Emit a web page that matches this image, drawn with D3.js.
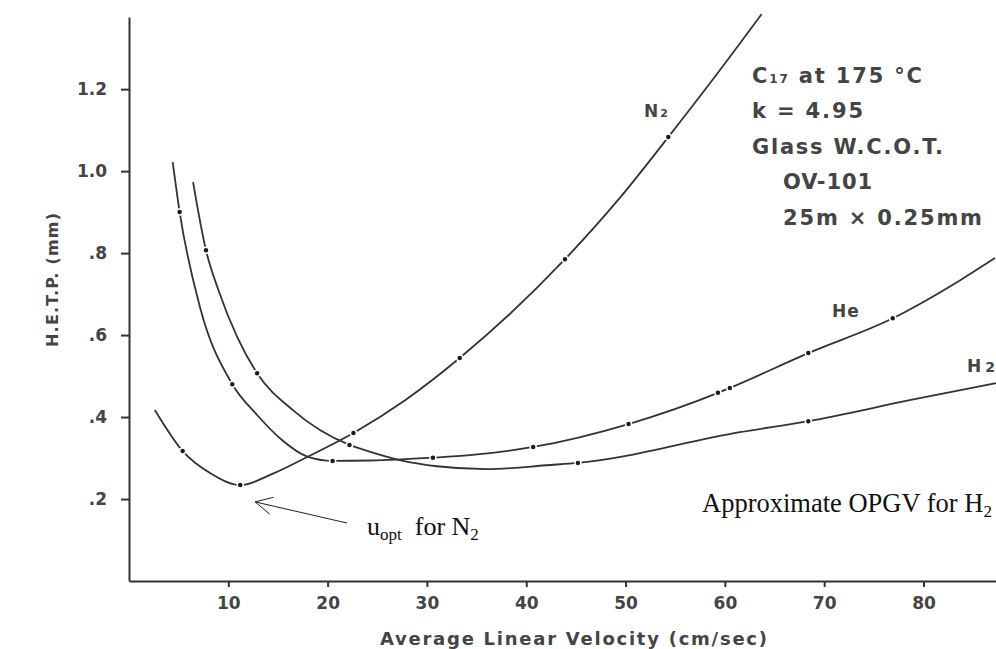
<!DOCTYPE html>
<html>
<head>
<meta charset="utf-8">
<script src="https://cdn.jsdelivr.net/npm/d3@7"></script>
<style>
  body { margin: 0; background: #fff; }
  svg { display: block; }
  .scan { font-family: "DejaVu Sans", sans-serif; font-weight: bold; fill: #444; }
  .note { font-family: "Liberation Serif", "Times New Roman", serif; fill: #111; }
</style>
</head>
<body>
<div id="chart"></div>
<script>
// axis ticks
const xTicks = [10, 20, 30, 40, 50, 60, 70, 80];
const yTicks = [0.2, 0.4, 0.6, 0.8, 1.0, 1.2];

// curves: [velocity cm/sec, HETP mm]
const n2Trace = [[2.6, 0.417], [8.2, 0.263], [14.5, 0.262], [17.9, 0.302], [27.8, 0.441], [49.4, 0.934], [58.8, 1.224], [63.7, 1.383]];
const n2Points = [[5.4, 0.317], [11.2, 0.234], [22.6, 0.361], [33.3, 0.544], [43.9, 0.785], [54.3, 1.083]];

const heTrace = [[4.4, 1.022], [7.15, 0.668], [12.9, 0.405], [15.4, 0.344], [17.9, 0.304], [24.3, 0.294], [34.3, 0.307], [83.7, 0.734], [87.2, 0.788]];
const hePoints = [[5.1, 0.900], [10.4, 0.480], [20.5, 0.293], [30.6, 0.301], [40.7, 0.327], [50.3, 0.383], [59.3, 0.459], [60.5, 0.471], [68.4, 0.556], [76.9, 0.641]];

const h2Trace = [[6.45, 0.973], [9.0, 0.710], [10.9, 0.595], [16.5, 0.417], [24.3, 0.315], [27.6, 0.293], [31.0, 0.280], [36.0, 0.273], [42.4, 0.283], [61.5, 0.363], [78.6, 0.441], [87.3, 0.483]];
const h2Points = [[7.75, 0.807], [12.9, 0.507], [22.2, 0.332], [45.2, 0.288], [68.4, 0.390]];

// arrow for u_opt, tip then tail
const arrowTip = [12.7, 0.193];
const arrowTail = [21.95, 0.1415];

const infoLines = ["k = 4.95", "Glass W.C.O.T.", "OV-101", "25m \u00d7 0.25mm"];

function plot() {
    const width = 996, height = 649;

    const svg = d3.select("#chart").append("svg")
        .attr("width", width)
        .attr("height", height);

    const x = d3.scaleLinear().domain([0, 87.3]).range([129, 996]);
    const y = d3.scaleLinear().domain([0, 1.376]).range([581, 17]);

    // X axis
    const xAxis = svg.append("g")
        .attr("transform", `translate(0,${y(0)})`)
        .call(d3.axisBottom(x).tickValues(xTicks).tickSize(6).tickPadding(10).tickSizeOuter(0));

    // Y axis
    const yAxis = svg.append("g")
        .attr("transform", `translate(${x(0)},0)`)
        .call(d3.axisLeft(y).tickValues(yTicks).tickSize(8).tickPadding(14).tickSizeOuter(0)
            .tickFormat(d => d >= 1 ? d.toFixed(1) : d.toFixed(1).slice(1)));

    [xAxis, yAxis].forEach(a => {
        a.selectAll("path, line").attr("stroke", "#333").attr("stroke-width", 2);
        a.selectAll("text").attr("class", "scan").style("font-size", "17px");
    });

    // axis titles
    svg.append("text")
        .attr("class", "scan")
        .attr("x", 380)
        .attr("y", 645)
        .attr("textLength", 387)
        .attr("lengthAdjust", "spacing")
        .style("font-size", "18px")
        .text("Average Linear Velocity (cm/sec)");

    svg.append("text")
        .attr("class", "scan")
        .attr("transform", "translate(58,280) rotate(-90)")
        .attr("text-anchor", "middle")
        .attr("textLength", 134)
        .attr("lengthAdjust", "spacing")
        .style("font-size", "16px")
        .text("H.E.T.P. (mm)");

    // curves
    const line = d3.line()
        .x(d => x(d[0]))
        .y(d => y(d[1]))
        .curve(d3.curveMonotoneX);

    const series = [
        { trace: n2Trace, points: n2Points },
        { trace: heTrace, points: hePoints },
        { trace: h2Trace, points: h2Points }
    ];

    series.forEach(s => {
        const all = s.trace.concat(s.points).sort((a, b) => a[0] - b[0]);
        svg.append("path")
            .datum(all)
            .attr("d", line)
            .attr("fill", "none")
            .attr("stroke", "#333")
            .attr("stroke-width", 1.8);
    });

    series.forEach(s => {
        svg.selectAll(null)
            .data(s.points)
            .enter()
            .append("circle")
            .attr("cx", d => x(d[0]))
            .attr("cy", d => y(d[1]))
            .attr("r", 3)
            .attr("fill", "#1a1a1a")
            .attr("stroke", "#fff")
            .attr("stroke-width", 1.5);
    });

    // curve labels
    const n2Label = svg.append("text").attr("class", "scan").attr("x", 644).attr("y", 117).style("font-size", "17px");
    n2Label.append("tspan").text("N");
    n2Label.append("tspan").attr("dx", 2).style("font-size", "11px").text("2");

    svg.append("text").attr("class", "scan").attr("x", 832).attr("y", 317)
        .style("font-size", "17px").attr("letter-spacing", 1).text("He");

    const h2Label = svg.append("text").attr("class", "scan").attr("x", 967).attr("y", 372).style("font-size", "17px");
    h2Label.append("tspan").text("H");
    h2Label.append("tspan").attr("dx", 4).style("font-size", "14px").text("2");

    // column info
    const c17 = svg.append("text").attr("class", "scan").attr("x", 752).attr("y", 83)
        .attr("textLength", 170)
        .attr("lengthAdjust", "spacing")
        .style("font-size", "21px");
    c17.append("tspan").text("C");
    c17.append("tspan").style("font-size", "12px").text("17");
    c17.append("tspan").text(" at 175 \u00b0C");

    const infoX = [752, 752, 783, 783];
    const infoLen = [111, 191, 89, 199];
    svg.selectAll(null)
        .data(infoLines)
        .enter()
        .append("text")
        .attr("class", "scan")
        .attr("x", (d, i) => infoX[i])
        .attr("y", (d, i) => 118 + i * 35.5)
        .attr("textLength", (d, i) => infoLen[i])
        .attr("lengthAdjust", "spacing")
        .style("font-size", "21px")
        .text(d => d);

    // u_opt arrow
    const tip = [x(arrowTip[0]), y(arrowTip[1])];
    const tail = [x(arrowTail[0]), y(arrowTail[1])];
    const ang = Math.atan2(tail[1] - tip[1], tail[0] - tip[0]);
    const head = 19, spread = 27 * Math.PI / 180;
    const arrowPath = d3.path();
    arrowPath.moveTo(tail[0], tail[1]);
    arrowPath.lineTo(tip[0], tip[1]);
    arrowPath.moveTo(tip[0] + head * Math.cos(ang - spread), tip[1] + head * Math.sin(ang - spread));
    arrowPath.lineTo(tip[0], tip[1]);
    arrowPath.lineTo(tip[0] + head * Math.cos(ang + spread), tip[1] + head * Math.sin(ang + spread));
    svg.append("path")
        .attr("d", arrowPath.toString())
        .attr("fill", "none")
        .attr("stroke", "#222")
        .attr("stroke-width", 1);

    const uopt = svg.append("text").attr("class", "note").attr("x", 367).attr("y", 535).style("font-size", "26px");
    uopt.append("tspan").text("u");
    uopt.append("tspan").attr("dy", 5).style("font-size", "17px").text("opt");
    uopt.append("tspan").attr("dy", -5).text("\u00a0 for N");
    uopt.append("tspan").attr("dy", 5).style("font-size", "17px").text("2");

    const opgv = svg.append("text").attr("class", "note").attr("x", 702).attr("y", 512).style("font-size", "26.5px");
    opgv.append("tspan").text("Approximate OPGV for H");
    opgv.append("tspan").attr("dy", 5).style("font-size", "17px").text("2");
}

plot();
</script>
</body>
</html>
